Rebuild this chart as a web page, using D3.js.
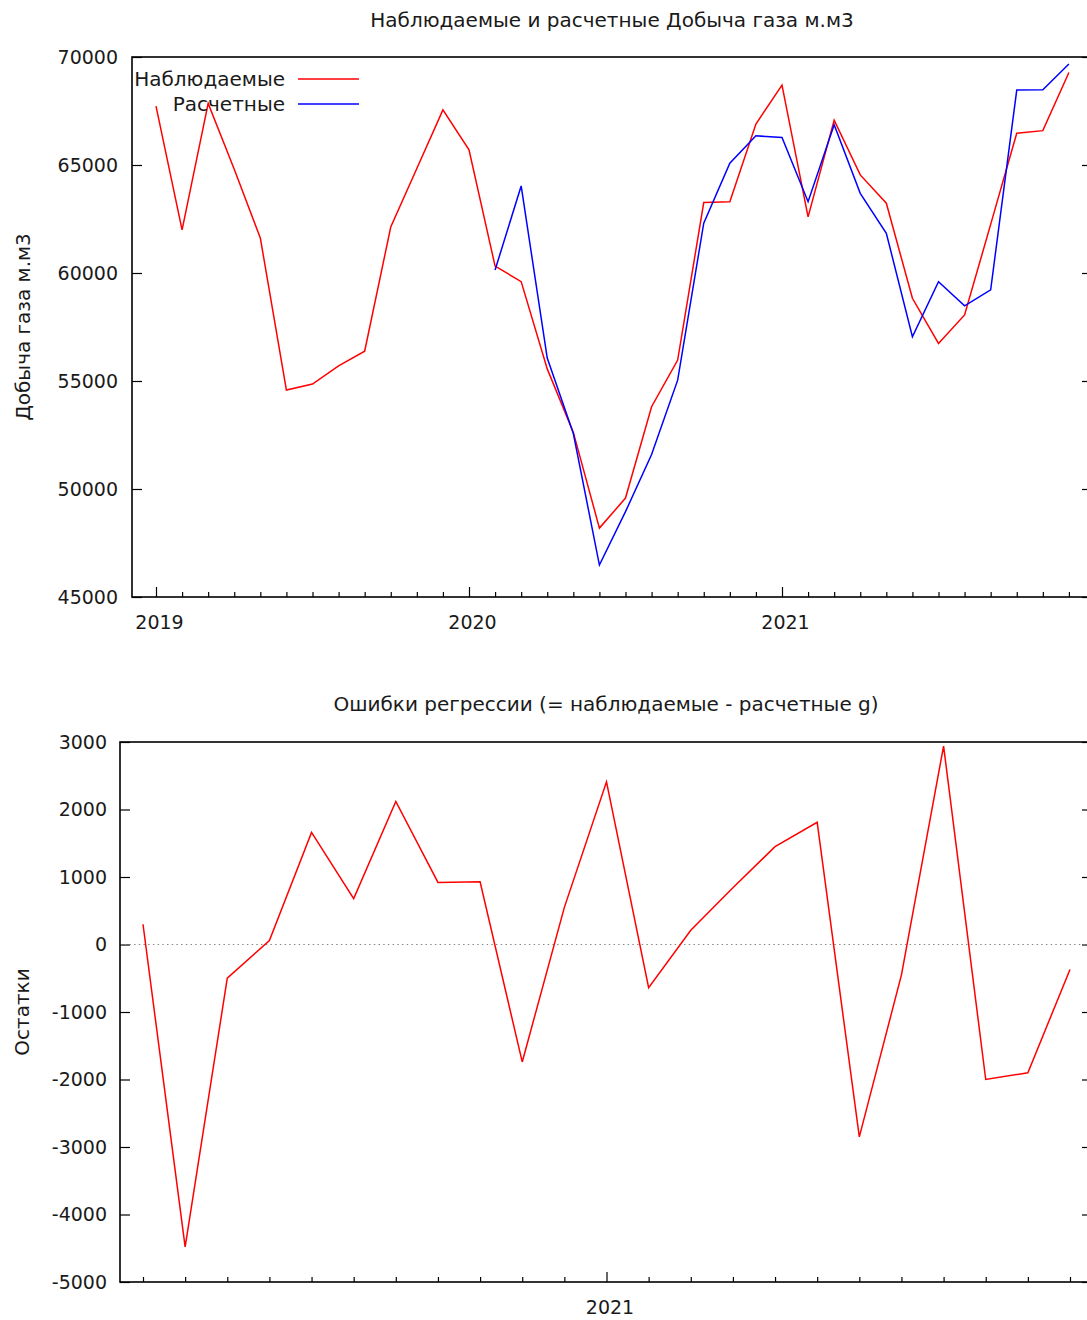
<!DOCTYPE html>
<html>
<head>
<meta charset="utf-8">
<script src="https://cdn.jsdelivr.net/npm/d3@7"></script>
<style>
  html, body { margin: 0; padding: 0; background: #fff; }
  svg { display: block; }
  text { font-family: "DejaVu Sans", sans-serif; fill: #1a1a1a; }
</style>
</head>
<body>
<svg id="chart" width="1087" height="1320"></svg>
<script>
// ---- data ----
const startMonthTop = "2019-01";
const observed = [
  67730, 62000, 67850, 64800, 61620, 54580, 54860, 55700, 56380, 62130, 64840, 67550,
  65700, 60320, 59600, 55560, 52620, 48190, 49580, 53810, 55970, 63260, 63300, 66900,
  68700, 62600, 67080, 64540, 63230, 58830, 56740, 58060, 62250, 66470, 66590, 69280
];
const predictedStartIndex = 13; // 2020-02
const predicted = [
  60140, 64030, 56060, 52570, 46480, 48950, 51600, 55040, 62310, 65080, 66350,
  66270, 63300, 66860, 63690, 61840, 57050, 59600, 58480, 59220, 68470, 68480, 69680
];
const residuals = [
  300, -4480, -500, 60, 1660, 680, 2120, 920, 930, -1740, 550,
  2410, -640, 210, 840, 1450, 1810, -2850, -450, 2940, -2000, -1900, -370
];
const topYTicks = [45000, 50000, 55000, 60000, 65000, 70000];
const topYearTicks = [0, 12, 24];
const topYearLabels = ["2019", "2020", "2021"];
const botYTicks = [-5000, -4000, -3000, -2000, -1000, 0, 1000, 2000, 3000];
const botYearTicks = [11];
const botYearLabels = ["2021"];
const seriesNames = ["Наблюдаемые", "Расчетные"];
const topTitle = "Наблюдаемые и расчетные Добыча газа м.м3";
const topYLabel = "Добыча газа м.м3";
const botTitle = "Ошибки регрессии (= наблюдаемые - расчетные g)";
const botYLabel = "Остатки";

// ---- layout ----
const svg = d3.select("#chart");
const FS = 19;     // tick labels
const FT = 20;     // titles, legend, axis labels
const RIGHT = 1092;

function frame(g, x0, x1, y0, y1) {
  g.append("rect").attr("x", x0).attr("y", y0).attr("width", x1 - x0).attr("height", y1 - y0)
    .attr("fill", "none").attr("stroke", "#000").attr("stroke-width", 1.6);
}

function styleAxis(sel, showLabels) {
  sel.select(".domain").remove();
  sel.selectAll(".tick line").attr("stroke", "#000").attr("stroke-width", 1.2);
  sel.selectAll(".tick text").style("font-size", FS + "px").style("font-family", "DejaVu Sans").attr("fill", "#1a1a1a");
  if (!showLabels) sel.selectAll(".tick text").remove();
}
const plain = d => String(d);

// ===== TOP CHART =====
const tL = 132, tT = 57, tB = 597;
const xTop = d3.scaleLinear().domain([0, 36]).range([156, 1095]);
const yTop = d3.scaleLinear().domain([45000, 70000]).range([tB, tT]);
const gTop = svg.append("g");

gTop.append("g").attr("transform", `translate(${tL},0)`)
  .call(d3.axisLeft(yTop).tickValues(topYTicks).tickSizeInner(-10).tickSizeOuter(0).tickPadding(14).tickFormat(plain))
  .call(s => styleAxis(s, true));
gTop.append("g").attr("transform", `translate(${RIGHT},0)`)
  .call(d3.axisRight(yTop).tickValues(topYTicks).tickSizeInner(-10).tickSizeOuter(0))
  .call(s => styleAxis(s, false));
const topMinor = d3.range(0, 36).filter(i => !topYearTicks.includes(i));
gTop.append("g").attr("transform", `translate(0,${tB})`)
  .call(d3.axisBottom(xTop).tickValues(topMinor).tickSizeInner(-5).tickSizeOuter(0))
  .call(s => styleAxis(s, false));
gTop.append("g").attr("transform", `translate(0,${tB})`)
  .call(d3.axisBottom(xTop).tickValues(topYearTicks).tickSizeInner(-10).tickSizeOuter(0).tickPadding(19)
    .tickFormat((d, i) => topYearLabels[i]))
  .call(s => styleAxis(s, true))
  .call(s => s.selectAll(".tick text").attr("dx", 3));

frame(gTop, tL, RIGHT, tT, tB);

const lineTop = d3.line().x(d => xTop(d[0])).y(d => yTop(d[1]));
gTop.append("path").datum(observed.map((v, i) => [i, v]))
  .attr("d", lineTop).attr("fill", "none").attr("stroke", "#ff0000").attr("stroke-width", 1.5);
gTop.append("path").datum(predicted.map((v, i) => [i + predictedStartIndex, v]))
  .attr("d", lineTop).attr("fill", "none").attr("stroke", "#0000ff").attr("stroke-width", 1.5);

const legColors = ["#ff0000", "#0000ff"];
seriesNames.forEach((n, i) => {
  const y = 79 + i * 25;
  gTop.append("text").attr("x", 285).attr("y", y).attr("dy", "0.35em").attr("text-anchor", "end")
    .style("font-size", FT + "px").text(n);
  gTop.append("line").attr("x1", 298).attr("x2", 359).attr("y1", y).attr("y2", y)
    .attr("stroke", legColors[i]).attr("stroke-width", 1.5);
});

svg.append("text").attr("x", 612).attr("y", 20).attr("dy", "0.35em").attr("text-anchor", "middle")
  .style("font-size", FT + "px").text(topTitle);
svg.append("text").attr("transform", `translate(23,${(tT + tB) / 2}) rotate(-90)`).attr("dy", "0.35em")
  .attr("text-anchor", "middle").style("font-size", FT + "px").text(topYLabel);

// ===== BOTTOM CHART =====
const bL = 120, bT = 742, bB = 1282;
const xBot = d3.scaleLinear().domain([0, 22]).range([143, 1070]);
const yBot = d3.scaleLinear().domain([-5000, 3000]).range([bB, bT]);
const gBot = svg.append("g");

gBot.append("g").attr("transform", `translate(${bL},0)`)
  .call(d3.axisLeft(yBot).tickValues(botYTicks).tickSizeInner(-10).tickSizeOuter(0).tickPadding(13).tickFormat(plain))
  .call(s => styleAxis(s, true));
gBot.append("g").attr("transform", `translate(${RIGHT},0)`)
  .call(d3.axisRight(yBot).tickValues(botYTicks).tickSizeInner(-10).tickSizeOuter(0))
  .call(s => styleAxis(s, false));
const botMinor = d3.range(0, 23).filter(i => !botYearTicks.includes(i));
gBot.append("g").attr("transform", `translate(0,${bB})`)
  .call(d3.axisBottom(xBot).tickValues(botMinor).tickSizeInner(-5).tickSizeOuter(0))
  .call(s => styleAxis(s, false));
gBot.append("g").attr("transform", `translate(0,${bB})`)
  .call(d3.axisBottom(xBot).tickValues(botYearTicks).tickSizeInner(-10).tickSizeOuter(0).tickPadding(19)
    .tickFormat((d, i) => botYearLabels[i]))
  .call(s => styleAxis(s, true))
  .call(s => s.selectAll(".tick text").attr("dx", 3));

gBot.append("line").attr("x1", bL).attr("x2", RIGHT).attr("y1", yBot(0)).attr("y2", yBot(0))
  .attr("stroke", "#888").attr("stroke-width", 1).attr("stroke-dasharray", "1.5,3.2");

frame(gBot, bL, RIGHT, bT, bB);

const lineBot = d3.line().x((d, i) => xBot(i)).y(d => yBot(d));
gBot.append("path").datum(residuals).attr("d", lineBot)
  .attr("fill", "none").attr("stroke", "#ff0000").attr("stroke-width", 1.5);

svg.append("text").attr("x", 606).attr("y", 704).attr("dy", "0.35em").attr("text-anchor", "middle")
  .style("font-size", FT + "px").text(botTitle);
svg.append("text").attr("transform", `translate(22,${(bT + bB) / 2}) rotate(-90)`).attr("dy", "0.35em")
  .attr("text-anchor", "middle").style("font-size", FT + "px").text(botYLabel);
</script>
</body>
</html>
